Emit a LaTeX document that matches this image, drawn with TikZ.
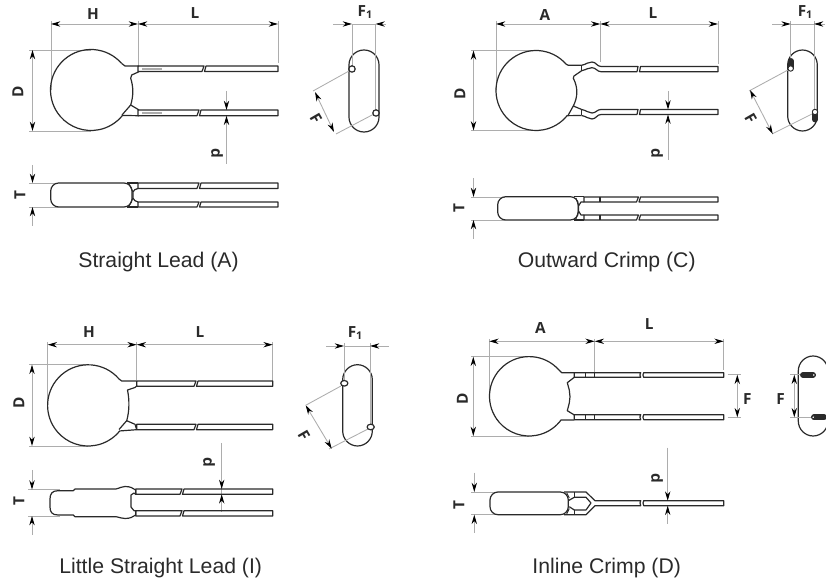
\documentclass[tikz,border=0pt]{standalone}
\usepackage{fontspec}
\setmainfont{Liberation Sans}
\newfontfamily\labfont{Open Sans}
\usetikzlibrary{arrows.meta}
\definecolor{ink}{HTML}{2A2A2A}
\definecolor{dimgray}{HTML}{ADADAD}
\tikzset{
  part/.style={draw=ink,line width=.9pt,line join=round},
  thin part/.style={draw=ink,line width=.7pt,line join=round},
  extline/.style={draw=dimgray,line width=.65pt},
  tipboth/.style={draw=dimgray,line width=.65pt,{Stealth[length=7pt,width=4pt,black]}-{Stealth[length=7pt,width=4pt,black]}},
  tipend/.style={draw=dimgray,line width=.65pt,-{Stealth[length=7pt,width=4pt,black]}},
  lab/.style={font=\labfont\bfseries\fontsize{11.5}{13}\selectfont,text=ink,inner sep=0pt},
  caption/.style={font=\fontsize{15.9}{18}\selectfont,text=ink,inner sep=0pt},
}
\newcommand{\dimboth}[3]{\coordinate (#1a) at (#2);\coordinate (#1b) at (#3);\draw[tipboth] (#1a) -- (#1b);}
\newcommand{\dimtip}[3]{\coordinate (#1a) at (#2);\coordinate (#1b) at (#3);\draw[tipend] (#1a) -- (#1b);}
\newcommand{\ext}[3]{\coordinate (#1a) at (#2);\coordinate (#1b) at (#3);\draw[extline] (#1a) -- (#1b);}
\newcommand{\lead}[5]{%
  \draw[part] (#1,#4) -- ({#2+1},#4) -- ({#2-1},#5) -- (#1,#5) -- cycle;
  \draw[part] ({#2+3},#4) -- (#3,#4) -- (#3,#5) -- ({#2+1.5},#5) -- cycle;}
\newcommand{\gaplead}[6]{%
  \draw[part] (#1,#5) -- (#2,#5) -- ({#2-.8},{(#5+#6)/2}) -- (#2,#6) -- (#1,#6) -- cycle;
  \draw[part] (#3,#5) -- (#4,#5) -- (#4,#6) -- (#3,#6) -- ({#3-.8},{(#5+#6)/2}) -- cycle;}
\newcommand{\capsule}[4]{\draw[part,rounded corners=11.2pt] (#1,#3) rectangle (#2,#4);}
\newcommand{\fsub}{F\raisebox{-1.8pt}{\fontsize{8}{9}\selectfont 1}}
\begin{document}
\begin{tikzpicture}[x=.75pt,y=-.75pt]
\useasboundingbox (0,0) rectangle (826,584);
%% ===== Panel A =====
\ext{a1}{51,21}{51,90}\ext{a2}{138,21}{138,65}\ext{a3}{278,21}{278,63}
\ext{a4}{29,50}{91,50}\ext{a5}{29,131}{91,131}
\dimboth{aH}{51,24}{138,24}\dimboth{aL}{138,24}{278,24}\dimboth{aD}{32.5,50}{32.5,131}
\node[lab] (aHt) at (93,14) {H};\node[lab] (aLt) at (195,13) {L};
\node[lab,rotate=90] (aDt) at (18,92) {D};
\draw[part] (139,66) -- (125,66) -- (121.6,63.4);
\draw[part] (91,90) ++(-41:40.5) arc[start angle=-41,end angle=-321,radius=40.5] -- (139,115.7);
\draw[part] (139,71.7) -- (131.7,75) -- (130.7,78.3) .. controls (133.5,87) and (133.5,96) .. (130.7,105) -- (139,110);
\draw[part] (122,115) -- (130.7,105);
\lead{138}{203}{278}{66}{71.5}
\lead{138}{198}{278}{110}{115.7}
\draw[dimgray,line width=1.1pt] (142,69) -- (162,69) (142,113) -- (162,113);
\dimtip{ad1}{226.5,91}{226.5,110}\dimtip{ad2}{226.5,164}{226.5,115.7}
\node[lab,rotate=-90] (adt) at (217,153) {d};
% side view
\ext{a6}{29,183}{58,183}\ext{a7}{29,207}{58,207}
\dimtip{aT1}{32.5,165}{32.5,183}\dimtip{aT2}{32.5,226}{32.5,207}
\node[lab,rotate=90] (aTt) at (20,195) {T};
\draw[part,rounded corners=6pt] (50.7,183) rectangle (132,207);
\draw[part] (127,183) -- (138,183) (127,207) -- (138,207);
\draw[part] (138,188.5) .. controls (135,189) and (134,190) .. (133,192) -- (133,198) .. controls (134,200) and (135,201.5) .. (138,202);
\draw[thin part] (129,184) -- (133,192) (129,206) -- (133,198);
\lead{138}{198}{278}{183}{188.5}
\lead{138}{198}{278}{202}{207}
% end view
\capsule{349}{379}{50}{132}
\ext{a8}{352,24}{352,66}\ext{a9}{375.5,24}{375.5,110}
\draw[extline] (352,24) -- (375.5,24);
\dimtip{aF1}{333,24}{352,24}\dimtip{aF2}{386,24}{375.5,24}
\node[lab] (aF1t) at (365,12) {\fsub};
\ext{a10}{313,91}{349,71}\ext{a11}{336,134}{374,114}
\dimboth{aF}{315,92}{334,132}
\node[lab,rotate=-60] (aFt) at (316,118) {F};
\draw[part,fill=white] (352,69) circle[radius=3.2];
\draw[part,fill=white] (376,113) circle[radius=3.2];
\node[caption] (acap) at (158.5,262) {Straight Lead (A)};
%% ===== Panel C =====
\ext{c1}{496,21}{496,90}\ext{c2}{600.3,21}{600.3,62}\ext{c3}{718,21}{718,64}
\ext{c4}{471,50.5}{536,50.5}\ext{c5}{471,130.5}{536,130.5}
\dimboth{cA}{496,24}{600.3,24}\dimboth{cL}{600.3,24}{718,24}\dimboth{cD}{473.5,50.5}{473.5,130.5}
\node[lab] (cAt) at (545,15) {A};\node[lab] (cLt) at (653,13) {L};
\node[lab,rotate=90] (cDt) at (460,94) {D};
\draw[part] (581.7,65.3) -- (568.3,65.3) -- (566.2,64.3);
\draw[part] (536,90.5) ++(-41:40) arc[start angle=-41,end angle=-321,radius=40] -- (581.7,115.5);
\draw[part] (581.7,70.7) -- (574,76) -- (573.3,78.3) .. controls (578,87) and (578,97) .. (573.3,106) -- (581.7,109.5);
\draw[part] (568,115.5) -- (573.3,106);
\draw[part] (581.7,65.3) -- (581.7,70.7) (581.7,109.5) -- (581.7,115.5);
\draw[part] (581.7,65.3) .. controls (587,64) and (588,62) .. (592,62) .. controls (596,62) and (597,66.5) .. (601,66.5);
\draw[part] (581.7,70.7) .. controls (587,69.5) and (588,67.7) .. (592,67.7) .. controls (596,67.7) and (597,71.7) .. (601,71.7);
\draw[part] (581.7,109.5) .. controls (587,110.5) and (588,113) .. (592,113) .. controls (596,113) and (597,109.5) .. (601,109.5);
\draw[part] (581.7,115.5) .. controls (587,116.5) and (588,119) .. (592,119) .. controls (596,119) and (597,114.5) .. (601,114.5);
\draw[part] (601,66.5) -- (638,66.5) -- (637,71.7) -- (601,71.7);
\draw[part] (640.5,66.5) -- (718,66.5) -- (718,71.7) -- (639.5,71.7) -- cycle;
\draw[part] (601,109.5) -- (638,109.5) -- (637,114.5) -- (601,114.5);
\draw[part] (640.5,109.5) -- (718,109.5) -- (718,114.5) -- (639.5,114.5) -- cycle;
\dimtip{cd1}{668,91}{668,109.5}\dimtip{cd2}{668,160}{668,114.5}
\node[lab,rotate=-90] (cdt) at (657,153) {d};
% side view
\ext{c6}{471,197}{505,197}\ext{c7}{471,220}{505,220}
\dimtip{cT1}{473.5,178}{473.5,197}\dimtip{cT2}{473.5,239}{473.5,220}
\node[lab,rotate=90] (cTt) at (459,208) {T};
\draw[part,rounded corners=6pt] (497.7,196.7) rectangle (578.3,220);
\draw[part] (574,196.7) -- (584,196.7) (574,220) -- (584,220);
\draw[part] (584,202) -- (581,202) -- (578.5,206) -- (578.5,211) -- (581,215) -- (584,215);
\draw[thin part] (576,198) -- (578.5,206) (576,219) -- (578.5,211);
\lead{584}{637.5}{718}{197}{202}
\lead{584}{637.5}{718}{215}{220}
\draw[part] (600,197) -- (600,202) (600,215) -- (600,220);
% end view
\capsule{787.7}{817.3}{50}{131}
\ext{c8}{790.7,21}{790.7,60}\ext{c9}{814,21}{814,110}
\draw[extline] (790.7,24) -- (814,24);
\dimtip{cF1}{772,24}{790.7,24}\dimtip{cF2}{825,24}{814,24}
\node[lab] (cF1t) at (805,12) {\fsub};
\ext{c10}{749,91}{788,70}\ext{c11}{772,134}{812,114}
\dimboth{cF}{750,90}{772.7,134}
\node[lab,rotate=-60] (cFt) at (750.7,118) {F};
\draw[ink,line width=4.4pt,line cap=round] (790.7,61) -- (790.7,68);
\draw[ink,line width=4.4pt,line cap=round] (815,112) -- (815,119.5);
\draw[thin part,fill=white] (790.7,68.5) circle[radius=2.7];
\draw[thin part,fill=white] (815,112) circle[radius=2.7];
\node[caption] (ccap) at (606.7,262) {Outward Crimp (C)};
%% ===== Panel I =====
\ext{i1}{47.7,342}{47.7,405}\ext{i2}{136.7,342}{136.7,380}\ext{i3}{272.7,342}{272.7,381}
\ext{i4}{29,364.7}{88,364.7}\ext{i5}{29,446}{88,446}
\dimboth{iH}{47.7,344.7}{136.7,344.7}\dimboth{iL}{136.7,344.7}{272.7,344.7}\dimboth{iD}{32,364.7}{32,446}
\node[lab] (iHt) at (89,332) {H};\node[lab] (iLt) at (200,332) {L};
\node[lab,rotate=90] (iDt) at (19,403) {D};
\draw[part] (136.7,381) -- (121.7,381) -- (118.8,378.8);
\draw[part] (88.2,405.4) ++(-41:40.6) arc[start angle=-41,end angle=-321,radius=40.6] -- (136.7,429.7);
\draw[part] (136.7,386) -- (135,387.5) -- (127.5,390) .. controls (129.5,400) and (129.5,411) .. (126.7,420.7) -- (135,424.3) -- (136.7,429.7);
\draw[part] (119,429.5) -- (126.7,420.7);
\lead{136.7}{195}{272.7}{381}{386.3}
\lead{136.7}{195}{272.7}{424.3}{429.7}
\ext{i6}{221.7,443}{221.7,512}
\dimtip{id1}{221.7,470}{221.7,489}\dimtip{id2}{221.7,512}{221.7,494.3}
\node[lab,rotate=-90] (idt) at (209,462) {d};
% side view
\ext{i7}{28,489.6}{60,489.6}\ext{i8}{28,516}{60,516}
\dimtip{iT1}{32,470}{32,489.6}\dimtip{iT2}{32,535}{32,516}
\node[lab,rotate=90] (iTt) at (19,501) {T};
\draw[part] (73.3,490.7) -- (58,490.7) .. controls (52,490.7) and (50,494) .. (50,499) -- (50,507) .. controls (50,512) and (52,515) .. (58,515) -- (73.3,515) -- (75,516.7) -- (116,516.7) .. controls (120,517.5) and (122,518.5) .. (125,518.5) .. controls (130,518.5) and (133,517) .. (135.7,515) -- (135.7,510.7) -- (134,510.7) -- (131,507) -- (131,495) -- (134,493) -- (135.7,494.3) -- (135.7,490) .. controls (133,488) and (130,486.5) .. (125,486.5) .. controls (122,486.5) and (120,488) .. (116,489) -- (75,489) -- cycle;
\lead{135.7}{181}{272.7}{489}{494.3}
\lead{135.7}{181}{272.7}{510.7}{516}
% end view
\capsule{342.7}{372.3}{364.7}{446}
\ext{i9}{344,343}{344,380}\ext{i10}{370,343}{370,424}
\draw[extline] (344,346) -- (370,346);
\dimtip{iF1}{326,346}{344,346}\dimtip{iF2}{389,346}{370,346}
\node[lab] (iF1t) at (355,333) {\fsub};
\ext{i11}{305.7,405.3}{341,386}\ext{i12}{329,449}{368,429}
\dimboth{iF}{305.7,405.3}{331.7,448.7}
\node[lab,rotate=-60] (iFt) at (304,435) {F};
\draw[part,fill=white] (344.3,383.3) ellipse[x radius=3.6,y radius=2.8];
\draw[part,fill=white] (370.7,427) ellipse[x radius=3.6,y radius=2.8];
\node[caption] (icap) at (160.7,568) {Little Straight Lead (I)};
%% ===== Panel D =====
\ext{d1}{489.3,339}{489.3,396}\ext{d2}{594.7,339}{594.7,372}\ext{d3}{723.7,339}{723.7,370}
\ext{d4}{471,356.7}{529,356.7}\ext{d5}{471,436}{529,436}
\dimboth{dA}{489.3,341.3}{594.7,341.3}\dimboth{dL}{594.7,341.3}{723.7,341.3}\dimboth{dD}{473.3,356.7}{473.3,436}
\node[lab] (dAt) at (540.3,327.7) {A};\node[lab] (dLt) at (649.3,324) {L};
\node[lab,rotate=90] (dDt) at (462.3,399) {D};
\draw[part] (574.3,372.7) -- (561.7,372.7) -- (559.2,370.3);
\draw[part] (529.2,396.3) ++(-41:39.7) arc[start angle=-41,end angle=-319,radius=39.7] -- (561,420) -- (574.3,420);
\draw[part] (574.3,377.3) -- (567.3,382.7) -- (569.3,390) -- (570,396.7) -- (569.3,403) -- (567.3,410.7) -- (574.3,415);
\gaplead{574.3}{640.7}{643.7}{723.7}{372.7}{377.3}
\gaplead{574.3}{640.7}{643.7}{723.7}{414.7}{419.7}
\draw[part] (585.3,372.7) -- (585.3,377.3) (594.7,372.7) -- (594.7,377.3) (585.3,414.7) -- (585.3,419.7) (594.7,414.7) -- (594.7,419.7);
\ext{d6}{727.7,374.7}{741,374.7}\ext{d7}{727.7,417.3}{741,417.3}
\dimboth{dF}{737.3,374.7}{737.3,417.3}
\node[lab] (dFt) at (747.3,398.7) {F};
% side view
\ext{d8}{471,492}{495,492}\ext{d9}{471,514.7}{495,514.7}
\dimtip{dT1}{474.3,472.7}{474.3,492}\dimtip{dT2}{474.3,533}{474.3,514.7}
\node[lab,rotate=90] (dTt) at (459,505.3) {T};
\draw[part,rounded corners=6pt] (490,492) rectangle (568.3,514.7);
\draw[part] (564,492) -- (586,492) -- (595,500.7) -- (640.7,500.7) -- (640,503) -- (640.7,505.7) -- (595,505.7) -- (586,514.7) -- (564,514.7);
\draw[part] (643.7,500.7) -- (723.7,500.7) -- (723.7,505.7) -- (643.7,505.7) -- (643,503) -- cycle;
\draw[part] (568.3,500.7) -- (574.3,497.3) -- (586,497.3) -- (591,503) -- (586,510) -- (574.3,510) -- (569.3,506.7);
\draw[part] (574.3,492) -- (574.3,497.3) (574.3,510) -- (574.3,514.7);
\draw[thin part] (566.7,492.7) -- (569.3,498) (566.7,514) -- (569.3,508.5);
\ext{d10}{667.7,447.7}{667.7,482}\ext{d11}{667.7,506}{667.7,524}
\dimtip{dd1}{667.7,482}{667.7,500.7}\dimtip{dd2}{667.7,524}{667.7,505.7}
\node[lab,rotate=-90] (ddt) at (657,478.3) {d};
% end view
\draw[part,rounded corners=11.2pt] (798.3,356) rectangle (828,436);
\ext{d12}{790,374.7}{803,374.7}\ext{d13}{790,417.3}{812,417.3}
\dimboth{dF2}{794.3,374.7}{794.3,417.3}
\node[lab] (dF2t) at (780.7,398.7) {F};
\draw[ink,line width=4.4pt,line cap=round] (803,375) -- (813,375);
\draw[ink,line width=4.4pt,line cap=round] (814,417.3) -- (824,417.3);
\draw[thin part,fill=white] (813.8,375) circle[radius=1.8];
\draw[thin part,fill=white] (813.3,417.3) circle[radius=1.8];
\node[caption] (dcap) at (606.7,568) {Inline Crimp (D)};
\end{tikzpicture}
\end{document}
